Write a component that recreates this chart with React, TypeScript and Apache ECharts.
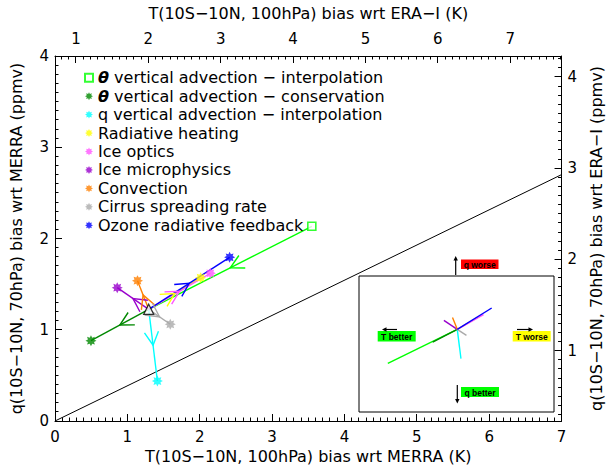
import React, { useEffect, useRef } from 'react';
import * as echarts from 'echarts';

// Sensitivity experiments, in legend order
const runNames = [
  'θ vertical advection − interpolation',
  'θ vertical advection − conservation',
  'q vertical advection − interpolation',
  'Radiative heating',
  'Ice optics',
  'Ice microphysics',
  'Convection',
  'Cirrus spreading rate',
  'Ozone radiative feedback',
];
const runColors = ['#00ff00', '#008800', '#00ffff', '#ffff00', '#ff55ff', '#9900cc', '#ff8000', '#aaaaaa', '#0000ff'];

// Control run: T(10S-10N, 100hPa) bias (K) and q(10S-10N, 70hPa) bias (ppmv) wrt MERRA
const controlT = 1.295;
const controlQ = 1.224;

// Each sensitivity run, same quantities
const runT = [3.549, 0.497, 1.415, 2.013, 2.147, 0.86, 1.14, 1.593, 2.413];
const runQ = [2.134, 0.88, 0.438, 1.57, 1.619, 1.461, 1.538, 1.06, 1.794];

// true where the change goes from the sensitivity run into the control
const intoControl = [true, false, false, false, false, false, false, false, false];

// Straight reference line through the origin
const diagonalLine = [
  [0, 0],
  [7, 2.7],
];

// Axis ranges: MERRA (bottom/left) and ERA-I (top/right) scales
const bottomRange = [0, 7];
const topRange = [0.71, 7.71];
const leftRange = [0, 4];
const rightRange = [0.23, 4.23];

// Inset: same changes, drawn from a common origin
const insetXRange = [-3.19, 3.14];
const insetYRange = [-2.211, 1.425];
const insetLabels = ['T better', 'T worse', 'q worse', 'q better'];

const FONT = '"DejaVu Sans", sans-serif';

function starSymbol(): string {
  const pts: string[] = [];
  for (let i = 0; i < 16; i++) {
    const a = (Math.PI / 8) * i - Math.PI / 2;
    const r = i % 2 === 0 ? 1 : 0.6;
    pts.push(`${(r * Math.cos(a)).toFixed(3)},${(r * Math.sin(a)).toFixed(3)}`);
  }
  return 'path://M' + pts.join('L') + 'Z';
}
const STAR = starSymbol();

const intLabel = (v: number) => (Math.abs(v - Math.round(v)) < 1e-6 ? String(Math.round(v)) : '');

// Every 0.1 step inside an axis range; whole numbers flagged as major ticks
function tenthSteps(range: number[]): { v: number; major: boolean }[] {
  const out: { v: number; major: boolean }[] = [];
  const k0 = Math.ceil(range[0] * 10 - 1e-9);
  const k1 = Math.floor(range[1] * 10 + 1e-9);
  for (let k = k0; k <= k1; k++) out.push({ v: k / 10, major: k % 10 === 0 });
  return out;
}

function App() {
  const ref = useRef<HTMLDivElement>(null);

  useEffect(() => {
    if (!ref.current) return;
    const chart = echarts.init(ref.current, undefined, { renderer: 'svg' });

    const segStart = runT.map((t, i) => (intoControl[i] ? [t, runQ[i]] : [controlT, controlQ]));
    const segEnd = runT.map((t, i) => (intoControl[i] ? [controlT, controlQ] : [t, runQ[i]]));

    const axisLine = () => ({ show: true, onZero: false, lineStyle: { color: '#000', width: 1 } });
    const labelStyle = { color: '#000', fontFamily: FONT, fontSize: 15 };
    const nameStyle = { color: '#000', fontFamily: FONT, fontSize: 16 };

    const pathSeries = runNames.map((name, i) => ({
      type: 'line',
      name: name + ' path',
      xAxisIndex: 0,
      yAxisIndex: 0,
      data: [segStart[i], segEnd[i]],
      showSymbol: false,
      symbol: 'none',
      silent: true,
      z: 3,
      lineStyle: { color: runColors[i], width: 1.4 },
    }));

    const markerSeries = runNames.map((name, i) => ({
      type: 'scatter',
      name,
      xAxisIndex: 0,
      yAxisIndex: 0,
      data: [[runT[i], runQ[i]]],
      symbol: i === 0 ? 'rect' : STAR,
      symbolSize: i === 0 ? 8 : 11,
      silent: true,
      z: 5,
      itemStyle:
        i === 0
          ? { color: '#fff', borderColor: runColors[i], borderWidth: 1.6 }
          : { color: runColors[i] },
    }));

    const arrowSeries = {
      type: 'custom',
      name: 'direction arrows',
      xAxisIndex: 0,
      yAxisIndex: 0,
      silent: true,
      z: 4,
      data: runNames.map((_, i) => ({
        value: [segStart[i][0], segStart[i][1], segEnd[i][0], segEnd[i][1]],
        itemStyle: { color: runColors[i] },
      })),
      renderItem: (params: any, api: any) => {
        const p0 = api.coord([api.value(0), api.value(1)]);
        const p1 = api.coord([api.value(2), api.value(3)]);
        const mx = (p0[0] + p1[0]) / 2;
        const my = (p0[1] + p1[1]) / 2;
        const dx = p1[0] - p0[0];
        const dy = p1[1] - p0[1];
        const len = Math.hypot(dx, dy) || 1;
        const bx = -dx / len;
        const by = -dy / len;
        const L = 15;
        const ang = (28 * Math.PI) / 180;
        const arm = (s: number) => [
          mx + L * (bx * Math.cos(s * ang) - by * Math.sin(s * ang)),
          my + L * (bx * Math.sin(s * ang) + by * Math.cos(s * ang)),
        ];
        return {
          type: 'polyline',
          shape: { points: [arm(1), [mx, my], arm(-1)] },
          style: { stroke: api.visual('color'), fill: null, lineWidth: 1.4 },
        };
      },
    };

    const insetSeries = runNames.map((name, i) => ({
      type: 'line',
      name: name + ' inset',
      xAxisIndex: 2,
      yAxisIndex: 2,
      data: [
        [0, 0],
        [segEnd[i][0] - segStart[i][0], segEnd[i][1] - segStart[i][1]],
      ],
      symbol: 'none',
      silent: true,
      z: 6,
      lineStyle: { color: runColors[i], width: 1.4 },
    }));

    // Inset annotation boxes and direction arrows
    const boxColors = ['#00ff00', '#ffff00', '#ff0000', '#00ff00'];
    const boxes = [
      { x: 377.7, y: 331, w: 38, h: 10.5 },
      { x: 512.7, y: 331, w: 38, h: 10.5 },
      { x: 461, y: 259.5, w: 37.5, h: 9.5 },
      { x: 461, y: 387, w: 38, h: 10 },
    ];
    const arrows = [
      { x1: 397, y1: 329.5, x2: 382, y2: 329.5 },
      { x1: 517, y1: 329.5, x2: 533, y2: 329.5 },
      { x1: 455.7, y1: 275, x2: 455.7, y2: 256 },
      { x1: 457.3, y1: 385, x2: 457.3, y2: 403.5 },
    ];
    const graphics: any[] = [];
    insetLabels.forEach((text, i) => {
      const b = boxes[i];
      const a = arrows[i];
      graphics.push({
        type: 'rect',
        shape: { x: b.x, y: b.y, width: b.w, height: b.h },
        style: { fill: boxColors[i] },
        z: 20,
      });
      graphics.push({
        type: 'text',
        style: {
          text,
          x: b.x + b.w / 2,
          y: b.y + b.h / 2 + 0.5,
          align: 'center',
          verticalAlign: 'middle',
          fill: '#000',
          font: 'bold 8.5px "Liberation Sans", sans-serif',
        },
        z: 21,
      });
      const dx = a.x2 - a.x1;
      const dy = a.y2 - a.y1;
      const len = Math.hypot(dx, dy);
      const ux = dx / len;
      const uy = dy / len;
      const hl = 4.5;
      const hw = 2.2;
      graphics.push({
        type: 'line',
        shape: { x1: a.x1, y1: a.y1, x2: a.x2 - ux * hl * 0.6, y2: a.y2 - uy * hl * 0.6 },
        style: { stroke: '#000', lineWidth: 1.2 },
        z: 22,
      });
      graphics.push({
        type: 'polygon',
        shape: {
          points: [
            [a.x2, a.y2],
            [a.x2 - ux * hl - uy * hw, a.y2 - uy * hl + ux * hw],
            [a.x2 - ux * hl + uy * hw, a.y2 - uy * hl - ux * hw],
          ],
        },
        style: { fill: '#000' },
        z: 22,
      });
    });

    chart.setOption({
      animation: false,
      backgroundColor: '#fff',
      textStyle: { fontFamily: FONT },
      grid: [
        { left: 52, right: 34, top: 56, bottom: 49 },
        {
          left: 359,
          top: 276,
          width: 195,
          height: 136,
          show: true,
          backgroundColor: '#fff',
          borderColor: '#000',
          borderWidth: 1,
        },
      ],
      legend: {
        data: runNames.map((name, i) => ({ name, icon: i === 0 ? 'rect' : STAR })),
        orient: 'vertical',
        left: 84,
        top: 69.7,
        padding: 0,
        itemWidth: 8,
        itemHeight: 8,
        itemGap: 2.45,
        selectedMode: false,
        formatter: (name: string) => (name.startsWith('θ') ? '{t|θ}' + name.slice(1) : name),
        textStyle: {
          color: '#000',
          fontFamily: FONT,
          fontSize: 16,
          lineHeight: 16,
          rich: {
            t: { fontFamily: FONT, fontSize: 16, fontStyle: 'italic', fontWeight: 'bold', color: '#000', lineHeight: 16 },
          },
        },
      },
      xAxis: [
        {
          type: 'value',
          gridIndex: 0,
          position: 'bottom',
          min: bottomRange[0],
          max: bottomRange[1],
          interval: 1,
          axisLine: axisLine(),
          axisTick: { show: false },
          axisLabel: { ...labelStyle, margin: 8, formatter: intLabel, showMinLabel: true, showMaxLabel: true },
          splitLine: { show: false },
          name: 'T(10S−10N, 100hPa) bias wrt MERRA (K)',
          nameLocation: 'middle',
          nameGap: 26,
          nameTextStyle: nameStyle,
        },
        {
          type: 'value',
          gridIndex: 0,
          position: 'top',
          min: topRange[0],
          max: topRange[1],
          splitNumber: 7,
          minInterval: 1,
          maxInterval: 1,
          axisLine: axisLine(),
          axisTick: { show: false },
          axisLabel: { ...labelStyle, margin: 10, formatter: intLabel },
          splitLine: { show: false },
          name: 'T(10S−10N, 100hPa) bias wrt ERA−I (K)',
          nameLocation: 'middle',
          nameGap: 35,
          nameTextStyle: nameStyle,
        },
        { type: 'value', gridIndex: 1, min: insetXRange[0], max: insetXRange[1], show: false, splitLine: { show: false } },
      ],
      yAxis: [
        {
          type: 'value',
          gridIndex: 0,
          position: 'left',
          min: leftRange[0],
          max: leftRange[1],
          interval: 1,
          axisLine: axisLine(),
          axisTick: { show: false },
          axisLabel: { ...labelStyle, margin: 6, formatter: intLabel, showMinLabel: true, showMaxLabel: true },
          splitLine: { show: false },
          name: 'q(10S−10N, 70hPa) bias wrt MERRA (ppmv)',
          nameLocation: 'middle',
          nameRotate: 90,
          nameGap: 31,
          nameTextStyle: nameStyle,
        },
        {
          type: 'value',
          gridIndex: 0,
          position: 'right',
          min: rightRange[0],
          max: rightRange[1],
          splitNumber: 4,
          minInterval: 1,
          maxInterval: 1,
          axisLine: axisLine(),
          axisTick: { show: false },
          axisLabel: { ...labelStyle, margin: 6, formatter: intLabel },
          splitLine: { show: false },
          name: 'q(10S−10N, 70hPa) bias wrt ERA−I (ppmv)',
          nameLocation: 'middle',
          nameRotate: 90,
          nameGap: 15,
          nameTextStyle: nameStyle,
        },
        { type: 'value', gridIndex: 1, min: insetYRange[0], max: insetYRange[1], show: false, splitLine: { show: false } },
      ],
      series: [
        {
          type: 'line',
          name: 'reference',
          xAxisIndex: 0,
          yAxisIndex: 0,
          data: diagonalLine,
          symbol: 'none',
          silent: true,
          z: 2,
          lineStyle: { color: '#000', width: 1 },
        },
        ...pathSeries,
        arrowSeries,
        ...markerSeries,
        {
          type: 'scatter',
          name: 'control',
          xAxisIndex: 0,
          yAxisIndex: 0,
          data: [[controlT, controlQ]],
          symbol: 'triangle',
          symbolSize: 10,
          silent: true,
          z: 7,
          itemStyle: { color: '#fff', borderColor: '#000', borderWidth: 1.3 },
        },
        ...insetSeries,
      ],
    });

    // Inward frame ticks, positioned through each axis' scale once the layout exists
    const px = (finder: any, v: number) => Number(chart.convertToPixel(finder, v));
    const crisp = (v: number) => Math.round(v - 0.5) + 0.5;
    const yBottom = px({ yAxisIndex: 0 }, leftRange[0]);
    const yTop = px({ yAxisIndex: 0 }, leftRange[1]);
    const xLeft = px({ xAxisIndex: 0 }, bottomRange[0]);
    const xRight = px({ xAxisIndex: 0 }, bottomRange[1]);
    const tickLine = (x1: number, y1: number, x2: number, y2: number) => ({
      type: 'line',
      silent: true,
      z: 30,
      shape: { x1, y1, x2, y2 },
      style: { stroke: '#000', lineWidth: 1 },
    });
    const ticks: any[] = [];
    tenthSteps(bottomRange).forEach((t) => {
      const x = crisp(px({ xAxisIndex: 0 }, t.v));
      ticks.push(tickLine(x, yBottom, x, yBottom - (t.major ? 7 : 3.5)));
    });
    tenthSteps(topRange).forEach((t) => {
      const x = crisp(px({ xAxisIndex: 1 }, t.v));
      ticks.push(tickLine(x, yTop, x, yTop + (t.major ? 7 : 3.5)));
    });
    tenthSteps(leftRange).forEach((t) => {
      const y = crisp(px({ yAxisIndex: 0 }, t.v));
      ticks.push(tickLine(xLeft, y, xLeft + (t.major ? 7 : 3.5), y));
    });
    tenthSteps(rightRange).forEach((t) => {
      const y = crisp(px({ yAxisIndex: 1 }, t.v));
      ticks.push(tickLine(xRight, y, xRight - (t.major ? 7 : 3.5), y));
    });

    chart.setOption({ graphic: [...graphics, ...ticks] });

    return () => chart.dispose();
  }, []);

  return (
    <div
      ref={ref}
      style={{ position: 'fixed', left: 0, top: 0, width: 612, height: 470, background: '#fff' }}
    />
  );
}

export default App;
